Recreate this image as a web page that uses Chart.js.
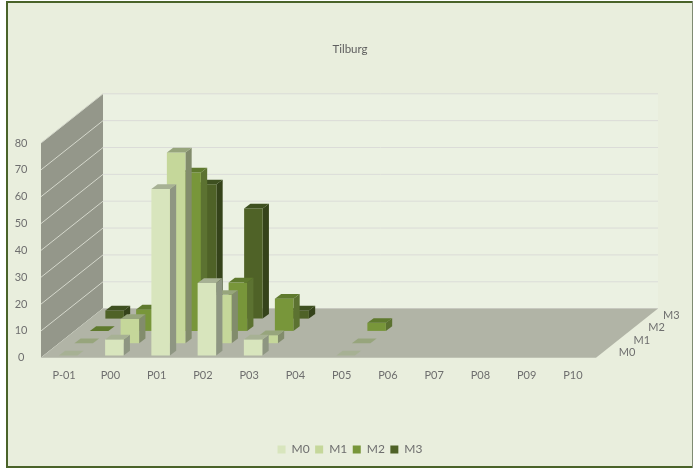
<!DOCTYPE html>
<html>
<head>
<meta charset="utf-8">
<script src="https://cdn.jsdelivr.net/npm/chart.js@4/dist/chart.umd.js"></script>
<style>
  html, body { margin: 0; padding: 0; background: #fff; }
  canvas { display: block; filter: blur(0.4px); }
</style>
</head>
<body>
<canvas id="chart" width="693" height="469"></canvas>
<script>
// data (null = no bar, 0 = flat bar)
const categories = ['P-01', 'P00', 'P01', 'P02', 'P03', 'P04', 'P05', 'P06', 'P07', 'P08', 'P09', 'P10'];
const seriesNames = ['M0', 'M1', 'M2', 'M3'];
const m0 = [0, 6, 62, 27, 6, null, 0, null, null, null, null, null];
const m1 = [0, 9, 71, 18, 3, null, 0, null, null, null, null, null];
const m2 = [0, 8, 59, 18, 12, null, 3, null, null, null, null, null];
const m3 = [3, null, 50, 41, 3, null, null, null, null, null, null, null];
const seriesValues = [m0, m1, m2, m3];

// face colours per series
const frontColors = ['#d8e5bd', '#c5d79a', '#78963a', '#4f6227'];
const topColors = ['#a7b194', '#97a57c', '#5f7a2e', '#3e5020'];
const sideColors = ['#8e9682', '#828c6c', '#5c7231', '#35431a'];

// projection of the depth axis
const rowStep = { x: 15.5, y: -12.3 };   // one series row
const barDepth = { x: 6.3, y: -4.7 };    // one bar
const rowStart = { x: 4, y: -2.3 };      // first bar from the front edge
const labelFont = { family: 'Lato', size: 11 };
const textColor = '#6e6e6e';

function face(ctx, pts, color) {
  ctx.fillStyle = color;
  ctx.beginPath();
  pts.forEach((p, i) => i ? ctx.lineTo(p[0], p[1]) : ctx.moveTo(p[0], p[1]));
  ctx.closePath();
  ctx.fill();
}

// bar drawn as a box, the library still works out x, y, base and width
class Bar3dController extends Chart.BarController {
  draw() {
    const meta = this.getMeta();
    const ctx = this.chart.ctx;
    const row = this.index;
    const dx = rowStart.x + rowStep.x * row;
    const dy = rowStart.y + rowStep.y * row;
    ctx.save();
    meta.data.forEach((el, i) => {
      if (this.getDataset().data[i] === null) return;
      const l = el.x - el.width / 2 + dx;
      const r = l + el.width;
      const t = el.y + dy;
      const b = el.base + dy;
      const ox = barDepth.x;
      const oy = barDepth.y;
      if (b - t > 0) {
        face(ctx, [[r, t], [r + ox, t + oy], [r + ox, b + oy], [r, b]], sideColors[row]);
        face(ctx, [[l, t], [r, t], [r, b], [l, b]], frontColors[row]);
      }
      face(ctx, [[l, t], [r, t], [r + ox, t + oy], [l + ox, t + oy]], topColors[row]);
    });
    ctx.restore();
  }
}
Bar3dController.id = 'bar3d';
Bar3dController.defaults = Chart.BarController.defaults;
Chart.register(Bar3dController);

// frame, walls, floor and depth labels
const roomPlugin = {
  id: 'room',
  beforeDraw(chart) {
    const ctx = chart.ctx;
    ctx.save();
    ctx.fillStyle = '#e9eedd';
    ctx.fillRect(7, 2, 685, 465);
    ctx.fillStyle = '#4a6329';
    ctx.fillRect(6, 1, 687, 2);      // top
    ctx.fillRect(6, 1, 2, 467);      // left
    ctx.fillRect(6, 466, 687, 2);    // bottom
    ctx.fillStyle = '#7f8a72';
    ctx.fillRect(692, 1, 1, 467);    // right
    ctx.restore();
  },
  beforeDatasetsDraw(chart) {
    const ctx = chart.ctx;
    const { x, y } = chart.scales;
    const left = chart.chartArea.left;
    const right = chart.chartArea.right;
    const ox = rowStep.x * seriesNames.length;
    const oy = rowStep.y * seriesNames.length;
    const y0 = y.getPixelForValue(y.min);
    const yTop = y.getPixelForValue(y.max);
    ctx.save();
    face(ctx, [[left + ox, y0 + oy], [right + ox, y0 + oy], [right + ox, yTop + oy], [left + ox, yTop + oy]], '#ebf1e2');
    face(ctx, [[left, y0], [left + ox, y0 + oy], [left + ox, yTop + oy], [left, yTop]], '#94978a');
    ctx.lineWidth = 1;
    y.ticks.forEach(t => {
      const py = y.getPixelForValue(t.value);
      ctx.strokeStyle = '#dbdcd8';
      ctx.beginPath();
      ctx.moveTo(left + ox, py + oy);
      ctx.lineTo(right + ox, py + oy);
      ctx.stroke();
      ctx.strokeStyle = '#d5d8cc';
      ctx.beginPath();
      ctx.moveTo(left, py);
      ctx.lineTo(left + ox, py + oy);
      ctx.stroke();
    });
    face(ctx, [[left, y0], [right, y0], [right + ox, y0 + oy], [left + ox, y0 + oy]], '#b1b4a6');
    ctx.fillStyle = textColor;
    ctx.font = labelFont.size + 'px ' + labelFont.family;
    ctx.textAlign = 'center';
    ctx.textBaseline = 'middle';
    seriesNames.forEach((name, i) => {
      ctx.fillText(name, right + 31 + 14.8 * i, y0 - 5.5 + rowStep.y * i);
    });
    ctx.restore();
  }
};

const chart = new Chart(document.getElementById('chart'), {
  type: 'bar3d',
  data: {
    labels: categories,
    datasets: seriesNames.map((name, i) => ({
      label: name,
      data: seriesValues[i],
      backgroundColor: frontColors[i],
      borderWidth: 0,
      grouped: false,
      barPercentage: 1,
      categoryPercentage: 0.4,
      clip: false
    }))
  },
  options: {
    responsive: false,
    animation: false,
    layout: { padding: { left: 8, right: 1, top: 0, bottom: 3.5 } },
    plugins: {
      title: {
        display: true,
        text: 'Tilburg',
        color: '#5f5f5f',
        font: { family: 'Lato', size: 11.5, weight: 'normal' },
        padding: { top: 42, bottom: 87.2 }
      },
      legend: {
        position: 'bottom',
        labels: { boxWidth: 8, boxHeight: 8, padding: 5.5, color: textColor, font: { family: 'Lato', size: 12 } }
      },
      tooltip: { enabled: false }
    },
    scales: {
      x: {
        type: 'category',
        offset: true,
        grid: { display: false },
        border: { display: false },
        ticks: { color: textColor, font: labelFont, padding: 3.5, maxRotation: 0, autoSkip: false },
        afterFit(scale) { scale.height = 80.2; }
      },
      y: {
        type: 'linear',
        min: 0,
        max: 80,
        ticks: { stepSize: 10, color: textColor, font: labelFont, crossAlign: 'center', padding: 5.5 },
        grid: { display: false },
        border: { display: false },
        afterFit(scale) { scale.width = 33; }
      },
      // empty axis, keeps the room clear of the depth labels so title and legend centre on the page
      depthGutter: {
        type: 'linear',
        position: 'right',
        ticks: { display: false },
        grid: { display: false },
        border: { display: false },
        afterFit(scale) { scale.width = 96; }
      }
    }
  },
  plugins: [roomPlugin]
});
</script>
</body>
</html>
